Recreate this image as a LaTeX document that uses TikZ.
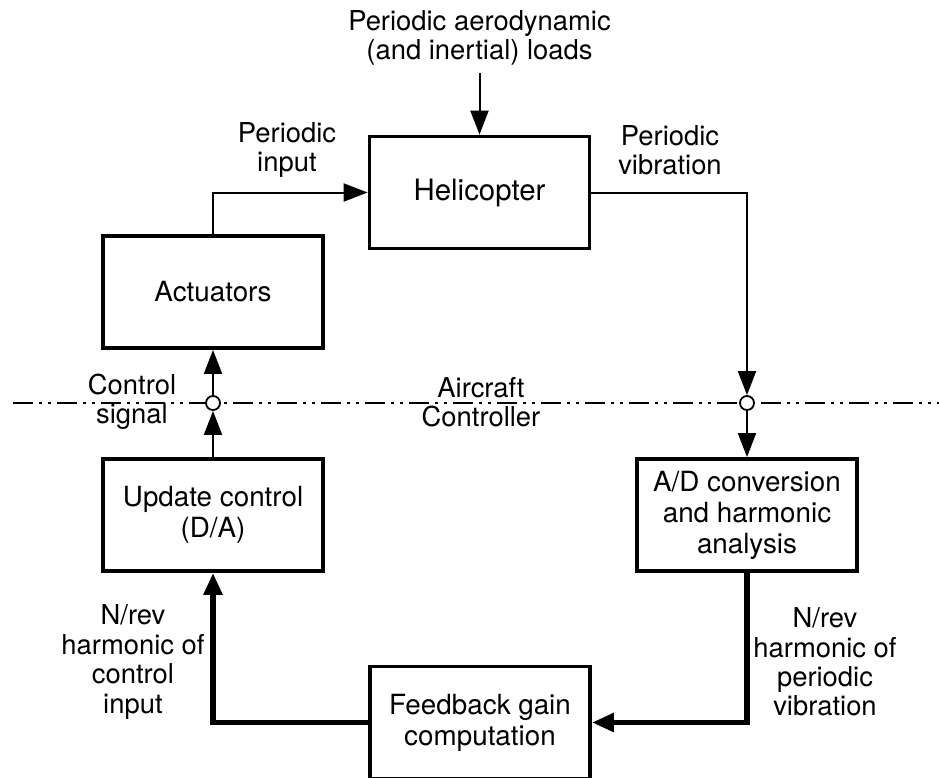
\documentclass[tikz,border=0pt]{standalone}
\usepackage{fontspec}
\setmainfont{TeX Gyre Heros}
\usepackage{tikz}
\usetikzlibrary{arrows.meta}
\tikzstyle{block} = [rectangle, draw, line width=1.9pt, minimum width=110pt,
    minimum height=56pt, align=center, font=\fontsize{13.9}{15.5}\selectfont]
\tikzstyle{txt} = [align=center, font=\fontsize{13.7}{14.7}\selectfont]
\tikzstyle{junction} = [circle, draw, fill=white, inner sep=0pt,
    minimum size=7pt, line width=0.9pt]
\tikzstyle{line} = [draw, line width=1pt, -{Triangle[length=12pt, width=9pt]}]
\tikzstyle{fatline} = [draw, line width=2.75pt, -{Triangle[length=11pt, width=9pt]}]
\tikzstyle{boundary} = [draw, line width=1pt,
    dash pattern=on 10pt off 3pt on 1.5pt off 3pt on 1.5pt off 3pt]

\begin{document}
\begin{tikzpicture}[x=0.5pt, y=-0.5pt, node distance=111.5pt]
    \useasboundingbox (0,0) rectangle (939,778);

    % Boundary between aircraft and controller
    \path [boundary] (13,403) -- (939,403);

    % Place nodes
    % Aircraft
    \node [block] (act) at (213,292) {Actuators};
    \node [block, font=\fontsize{14.7}{17}\selectfont] (heli) at (479.5,192.5) {Helicopter};
    % Controller
    \node [block, below of=act] (upd) {Update control\\(D/A)};
    \node [block, right of=upd, node distance=267pt] (adc) {A/D conversion\\and harmonic\\analysis};
    \node [block] (fb) at (480,722.5) {Feedback gain\\computation};

    % Junctions
    \node [junction] (jL) at (213,403) {};
    \node [junction] (jR) at (747,403) {};

    % Texts
    \node [txt, above of=heli, node distance=77.25pt] (loads) {Periodic aerodynamic\\(and inertial) loads};
    \node [txt] (pin) at (287,150) {Periodic\\input};
    \node [txt] (pvib) at (670,150) {Periodic\\vibration};
    \node [txt] (csig) at (132,402) {Control\\signal};
    \node [txt] (acon) at (481,402) {Aircraft\\Controller};
    \node [txt] (hci) at (133,662) {N/rev\\harmonic of\\control\\input};
    \node [txt] (hpv) at (825,662) {N/rev\\harmonic of\\periodic\\vibration};

    % Draw edges
    \path [line] (loads) -- (heli);
    \path [line] (act) |- (heli);
    \path [line] (heli) -| (jR);
    \path [line] (jR) -- (adc);
    \path [line] (upd) -- (jL);
    \path [line] (jL) -- (act);

    % Harmonic feedback path
    \path [fatline] (adc) |- (fb);
    \path [fatline] (fb) -| (upd);

\end{tikzpicture}
\end{document}
